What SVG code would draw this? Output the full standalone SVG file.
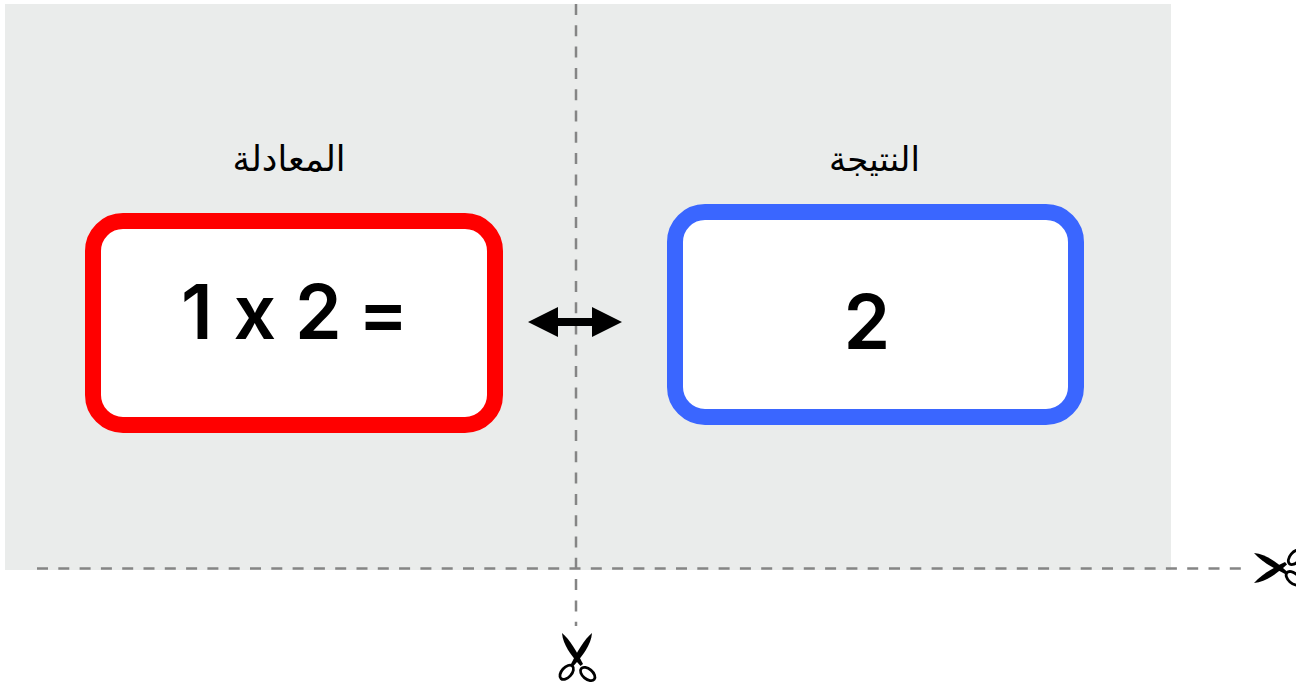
<svg xmlns="http://www.w3.org/2000/svg" width="1296" height="686" viewBox="0 0 1296 686">
<style>
.cut{fill:none;stroke:#858585;stroke-width:2.500;stroke-dasharray:11 10.300}
.box{fill:#fff;stroke-width:16}
.num{font-family:"Inter","Liberation Sans",sans-serif;font-weight:600;font-size:75px;fill:#000;font-feature-settings:"calt" 0}
.lab{font-family:"DejaVu Sans","Noto Sans",sans-serif;fill:#000;text-anchor:middle}
.blade{fill:#000}
.ring{fill:none;stroke:#000;stroke-width:2.800}
</style>
<defs>
<g id="scissors">
<path class="blade" d="M562 633C570 640 576 650 583 664L580.500 666C571 655 563 645 562 633Z"/>
<path class="blade" d="M592 633C584 640 578 650 571 664L573.500 666C583 655 591 645 592 633Z"/>
<ellipse class="ring" cx="566.700" cy="672.300" rx="8.500" ry="5" transform="rotate(-48 566.700 672.300)"/>
<ellipse class="ring" cx="587.700" cy="674" rx="8.500" ry="5" transform="rotate(40 587.700 674)"/>
</g>
</defs>
<rect id="panel" x="5" y="4" width="1166" height="566" fill="#eaeceb"/>
<g id="connectors">
<path class="cut" d="M576 4V626"/>
<path class="cut" d="M37 568.500H1244"/>
<path d="M528 322L558 307V318H592V307L622 322L592 337V326H558V337Z" fill="#000"/>
</g>
<g id="equation">
<text class="lab" x="289" y="171" font-size="35" direction="rtl">المعادلة</text>
<rect class="box" x="93" y="221" width="402" height="204" rx="30" stroke="#ff0000"/>
<text class="num" y="339"><tspan x="181">1</tspan><tspan x="233.500">x</tspan><tspan x="295">2</tspan><tspan x="358">=</tspan></text>
</g>
<g id="result">
<text class="lab" x="874.500" y="171" font-size="34" direction="rtl">النتيجة</text>
<rect class="box" x="675" y="212" width="401" height="205" rx="30" stroke="#3a66ff"/>
<text class="num" x="843.500" y="349">2</text>
</g>
<g id="scissors-bottom"><use href="#scissors"/></g>
<g id="scissors-right"><use href="#scissors" transform="translate(1254 568) rotate(-90) translate(-577 -633)"/></g>
</svg>
